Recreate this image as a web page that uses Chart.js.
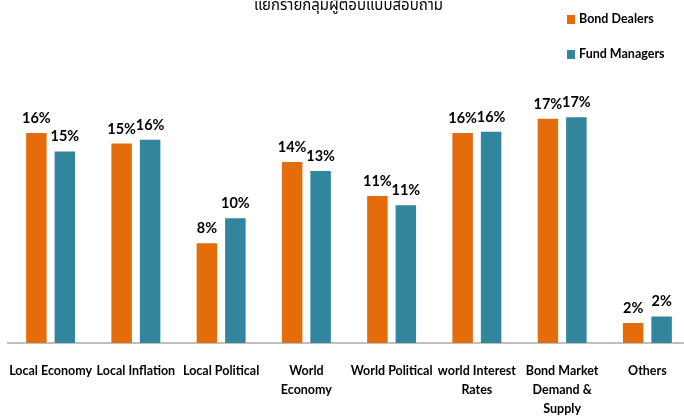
<!DOCTYPE html>
<html>
<head>
<meta charset="utf-8">
<script src="https://cdn.jsdelivr.net/npm/chart.js@4"></script>
<style>
  html, body { margin: 0; padding: 0; background: #fff; overflow: hidden; }
  #wrap { position: relative; width: 700px; height: 416px; }
</style>
</head>
<body>
<div id="wrap"><canvas id="surveyChart"></canvas></div>
<script>
const title = "แยกรายกลุ่มผู้ตอบแบบสอบถาม";
const categories = [
  ["Local Economy"],
  ["Local Inflation"],
  ["Local Political"],
  ["World", "Economy"],
  ["World Political"],
  ["world Interest", "Rates"],
  ["Bond Market", "Demand &", "Supply"],
  ["Others"]
];
const bondDealers = [16.1, 15.3, 7.7, 13.9, 11.3, 16.1, 17.2, 1.6];
const fundManagers = [14.7, 15.6, 9.6, 13.2, 10.6, 16.2, 17.3, 2.1];

const FONT = "Lato, 'Open Sans', sans-serif";

// percent labels above each bar
const barLabels = {
  id: "barLabels",
  afterDatasetsDraw(chart) {
    const c = chart.ctx;
    c.save();
    c.font = "bold 14.5px " + FONT;
    c.fillStyle = "#000";
    c.textAlign = "center";
    c.textBaseline = "alphabetic";
    chart.data.datasets.forEach((ds, i) => {
      chart.getDatasetMeta(i).data.forEach((bar, j) => {
        c.fillText(Math.round(ds.data[j]) + "%", bar.x, bar.y - 9);
      });
    });
    c.restore();
  }
};

// cropped title + stacked legend in the top right
const header = {
  id: "header",
  afterDraw(chart) {
    const c = chart.ctx;
    c.save();
    c.fillStyle = "#000";
    c.textAlign = "left";
    c.textBaseline = "alphabetic";
    c.font = "15px 'Noto Sans Thai', Tahoma, sans-serif";
    c.fillText(title, 254, 10);

    c.textBaseline = "middle";
    c.font = "bold 12.5px " + FONT;
    chart.data.datasets.forEach((ds, i) => {
      const y = 19 + i * 35;
      c.fillStyle = ds.backgroundColor;
      c.fillRect(567, y - 4, 8, 9);
      c.fillStyle = "#000";
      c.fillText(ds.label, 579, y);
    });
    c.restore();
  }
};

new Chart(document.getElementById("surveyChart"), {
  type: "bar",
  data: {
    labels: categories,
    datasets: [
      {
        label: "Bond Dealers",
        data: bondDealers,
        backgroundColor: "#E46C0A",
        borderColor: "rgba(255,255,255,0.45)",
        borderWidth: 1
      },
      {
        label: "Fund Managers",
        data: fundManagers,
        backgroundColor: "#31859C",
        borderColor: "rgba(255,255,255,0.45)",
        borderWidth: 1
      }
    ]
  },
  options: {
    responsive: true,
    maintainAspectRatio: false,
    animation: false,
    layout: { padding: { top: 81, left: 8, right: 10, bottom: 0 } },
    plugins: {
      legend: { display: false },
      tooltip: { enabled: false }
    },
    datasets: {
      bar: { categoryPercentage: 0.668, barPercentage: 0.79 }
    },
    scales: {
      x: {
        grid: { display: false, drawTicks: false },
        border: { display: true, color: "#BFBFBF", width: 2 },
        ticks: {
          color: "#000",
          padding: 18,
          maxRotation: 0,
          autoSkip: false,
          font: { family: FONT, size: 12.5, weight: "bold", lineHeight: 1.52 }
        },
        afterFit(scale) {
          scale.paddingLeft = 0;
          scale.paddingRight = 0;
          scale.height = 73;
        }
      },
      y: {
        display: false,
        min: 0,
        max: 20
      }
    }
  },
  plugins: [barLabels, header]
});
</script>
</body>
</html>
